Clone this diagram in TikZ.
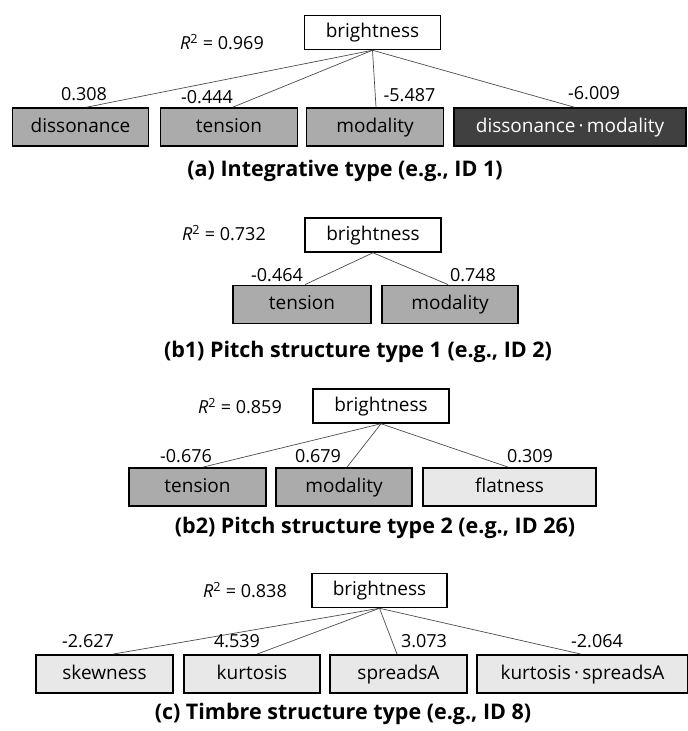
\documentclass[tikz,border=0pt]{standalone}
\usepackage{fontspec}
\setmainfont{Open Sans}
\definecolor{midfill}{HTML}{ABABAB}
\definecolor{darkfill}{HTML}{404040}
\definecolor{lightfill}{HTML}{E8E8E8}
\begin{document}
\begin{tikzpicture}[x=1pt,y=-1pt,
  font=\fontsize{18}{21}\selectfont,
  var/.style={draw=black, line width=1.8pt, minimum height=38pt, inner sep=0pt, text height=14pt, text depth=4pt, font=\fontsize{19}{22}\selectfont},
  resp/.style={draw=black, line width=1.5pt, fill=white, minimum width=136pt, minimum height=34pt, inner sep=0pt, text height=14pt, text depth=4pt, font=\fontsize{19}{22}\selectfont},
  mid/.style={var, fill=midfill},
  dark/.style={var, fill=darkfill, text=white},
  light/.style={var, fill=lightfill},
  link/.style={draw=black!70, line width=0.7pt},
  coef/.style={inner sep=0pt},
  rtext/.style={inner sep=0pt},
  captext/.style={inner sep=0pt, font=\fontsize{21.5}{24}\selectfont\bfseries},
]
\useasboundingbox (0,0) rectangle (688,731);

% ---------- (a)
\node[resp] (ba) at (372.5,32.5) {brightness};
\node[rtext] (ra) at (222,42) {\textit{R}\textsuperscript{2} = 0.969};
\node[mid, minimum width=136pt] (a1) at (80.5,127) {dissonance};
\node[mid, minimum width=137pt] (a2) at (229,127) {tension};
\node[mid, minimum width=137pt] (a3) at (375,127) {modality};
\node[dark, minimum width=232pt] (a4) at (570,127) {dissonance\,·\,modality};
\draw[link] (ba.south) -- ([xshift=6.5pt]a1.north);
\draw[link] (ba.south) -- ([xshift=4pt]a2.north);
\draw[link] (ba.south) -- ([xshift=1pt]a3.north);
\draw[link] (ba.south) -- ([xshift=4pt]a4.north);
\node[coef] (la1) at (84,94) {0.308};
\node[coef] (la2) at (207,97) {-0.444};
\node[coef] (la3) at (409.5,95) {-5.487};
\node[coef] (la4) at (594,93) {-6.009};
\node[captext] (capa) at (345,171) {(a) Integrative type (e.g., ID 1)};

% ---------- (b1)
\node[resp] (bb) at (373,235) {brightness};
\node[rtext] (rb) at (224,233) {\textit{R}\textsuperscript{2} = 0.732};
\node[mid, minimum width=138pt] (b1) at (302,304.5) {tension};
\node[mid, minimum width=136pt] (b2) at (450,304.5) {modality};
\draw[link] (bb.south) -- ([xshift=3pt]b1.north);
\draw[link] (bb.south) -- ([xshift=-2pt]b2.north);
\node[coef] (lb1) at (277,275) {-0.464};
\node[coef] (lb2) at (473,275) {0.748};
\node[captext] (capb) at (358,352) {(b1) Pitch structure type 1 (e.g., ID 2)};

% ---------- (b2)
\node[resp] (bc) at (381,406) {brightness};
\node[rtext] (rc) at (240,406) {\textit{R}\textsuperscript{2} = 0.859};
\node[mid, minimum width=137pt] (c1) at (197.5,487) {tension};
\node[mid, minimum width=136pt] (c2) at (344,487) {modality};
\node[light, minimum width=173pt] (c3) at (509.5,487) {flatness};
\draw[link] (bc.south) -- ([xshift=5.5pt]c1.north);
\draw[link] (bc.south) -- ([xshift=3pt]c2.north);
\draw[link] (bc.south) -- ([xshift=-1.5pt]c3.north);
\node[coef] (lc1) at (186,456) {-0.676};
\node[coef] (lc2) at (318,456) {0.679};
\node[coef] (lc3) at (530,456) {0.309};
\node[captext] (capc) at (375,528) {(b2) Pitch structure type 2 (e.g., ID 26)};

% ---------- (c)
\node[resp, minimum width=135pt] (bd) at (379.5,590.5) {brightness};
\node[rtext] (rd) at (245,590) {\textit{R}\textsuperscript{2} = 0.838};
\node[light, minimum width=137pt] (d1) at (104.5,674) {skewness};
\node[light, minimum width=136pt] (d2) at (252,674) {kurtosis};
\node[light, minimum width=137pt] (d3) at (398.5,674) {spreadsA};
\node[light, minimum width=211pt] (d4) at (582.5,674) {kurtosis\,·\,spreadsA};
\draw[link] (bd.south) -- ([xshift=8.5pt]d1.north);
\draw[link] (bd.south) -- ([xshift=5pt]d2.north);
\draw[link] (bd.south) -- ([xshift=-1.5pt]d3.north);
\draw[link] (bd.south) -- ([xshift=-1.5pt]d4.north);
\node[coef] (ld1) at (88,641) {-2.627};
\node[coef] (ld2) at (237,641) {4.539};
\node[coef] (ld3) at (424,641) {3.073};
\node[coef] (ld4) at (597,641) {-2.064};
\node[captext] (capd) at (343,714) {(c) Timbre structure type (e.g., ID 8)};
\end{tikzpicture}
\end{document}
